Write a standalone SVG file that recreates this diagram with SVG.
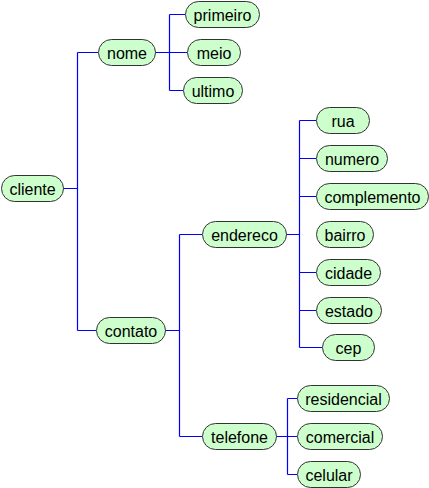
<svg xmlns="http://www.w3.org/2000/svg" width="429" height="488" viewBox="0 0 429 488">
<style>
.n rect{fill:#ccffcc;stroke:#333;stroke-width:1}
.n text{font-family:"Liberation Sans",Arial,sans-serif;font-size:16px;fill:#000;text-anchor:middle}
#connectors path{fill:none;stroke:#0000ff;stroke-width:1.2}
</style>
<rect width="429" height="488" fill="#fff"/>
<g id="connectors">
<path d="M63 188.5H77.5M77.5 52.5V330.5M77.5 52.5H98M77.5 330.5H96"/>
<path d="M155 52.5H169.5M169.5 14.5V90.5M169.5 14.5H185M169.5 52.5H187M169.5 90.5H183"/>
<path d="M165 330.5H179.5M179.5 234.5V436.5M179.5 234.5H202M179.5 436.5H202"/>
<path d="M286 234.5H299.5M299.5 120.5V347.5M299.5 120.5H316M299.5 158.5H316M299.5 196.5H316M299.5 272.5H316M299.5 310.5H316M299.5 347.5H322"/>
<path d="M276 436.5H287.5M287.5 398.5V474.5M287.5 398.5H297M287.5 436.5H297M287.5 474.5H297"/>
</g>
<g id="cliente" class="n"><rect x="1.5" y="175.5" width="62" height="26" rx="13"/><text x="32.5" y="194.5">cliente</text></g>
<g id="nome" class="n"><rect x="98.5" y="39.5" width="57" height="26" rx="13"/><text x="127" y="58.5">nome</text></g>
<g id="primeiro" class="n"><rect x="185.5" y="1.5" width="74" height="26" rx="13"/><text x="222.5" y="20.5">primeiro</text></g>
<g id="meio" class="n"><rect x="187.5" y="39.5" width="53" height="26" rx="13"/><text x="214" y="58.5">meio</text></g>
<g id="ultimo" class="n"><rect x="183.5" y="77.5" width="59" height="26" rx="13"/><text x="213" y="96.5">ultimo</text></g>
<g id="contato" class="n"><rect x="96.5" y="317.5" width="69" height="26" rx="13"/><text x="131" y="336.5">contato</text></g>
<g id="endereco" class="n"><rect x="202.5" y="221.5" width="84" height="26" rx="13"/><text x="244.5" y="240.5">endereco</text></g>
<g id="rua" class="n"><rect x="316.5" y="107.5" width="53" height="26" rx="13"/><text x="343" y="126.5">rua</text></g>
<g id="numero" class="n"><rect x="316.5" y="145.5" width="71" height="26" rx="13"/><text x="352" y="164.5">numero</text></g>
<g id="complemento" class="n"><rect x="316.5" y="183.5" width="112" height="26" rx="13"/><text x="372.5" y="202.5">complemento</text></g>
<g id="bairro" class="n"><rect x="316.5" y="221.5" width="57" height="26" rx="13"/><text x="345" y="240.5">bairro</text></g>
<g id="cidade" class="n"><rect x="316.5" y="259.5" width="64" height="26" rx="13"/><text x="348.5" y="278.5">cidade</text></g>
<g id="estado" class="n"><rect x="316.5" y="297.5" width="65" height="26" rx="13"/><text x="349" y="316.5">estado</text></g>
<g id="cep" class="n"><rect x="322.5" y="334.5" width="52" height="26" rx="13"/><text x="348.5" y="353.5">cep</text></g>
<g id="telefone" class="n"><rect x="202.5" y="423.5" width="74" height="26" rx="13"/><text x="239.5" y="442.5">telefone</text></g>
<g id="residencial" class="n"><rect x="297.5" y="385.5" width="92" height="26" rx="13"/><text x="343.5" y="404.5">residencial</text></g>
<g id="comercial" class="n"><rect x="297.5" y="423.5" width="85" height="26" rx="13"/><text x="340" y="442.5">comercial</text></g>
<g id="celular" class="n"><rect x="297.5" y="461.5" width="63" height="26" rx="13"/><text x="329" y="480.5">celular</text></g>
</svg>
